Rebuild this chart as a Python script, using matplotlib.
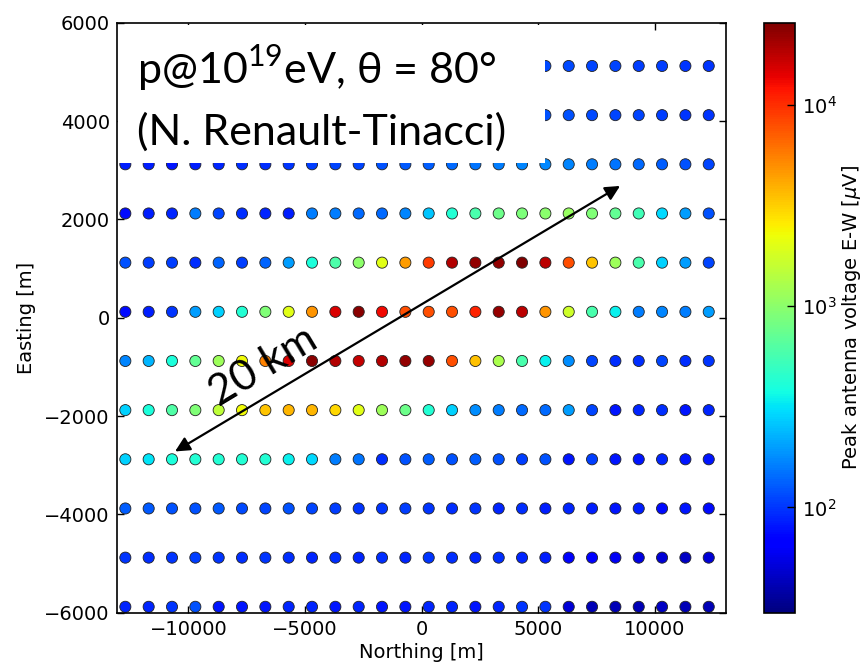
import numpy as np
import matplotlib
matplotlib.use("Agg")
import matplotlib.pyplot as plt
from matplotlib.colors import LogNorm
from matplotlib.patches import Rectangle

# ---------------- data ----------------
northing = [-12700 + 1000 * i for i in range(26)]          # column positions [m]
easting = [5120, 4120, 3120, 2120, 1120, 120,
           -880, -1880, -2880, -3880, -4880, -5880]          # row positions [m]

v_5120  = [100, 100, 100, 100, 100, 100, 100, 100, 100, 100, 100, 100, 100, 100, 100, 100, 100, 110,
           115, 115, 110, 110, 105, 105, 100, 100]
v_4120  = [100, 100, 100, 100, 100, 100, 100, 100, 100, 100, 100, 100, 100, 100, 100, 100, 110, 115,
           120, 120, 115, 110, 110, 105, 100, 100]
v_3120  = [85, 85, 80, 85, 90, 95, 95, 100, 105, 110, 110, 120, 125, 130, 140, 150, 160, 170,
           175, 170, 160, 150, 140, 130, 120, 110]
v_2120  = [75, 85, 90, 160, 110, 95, 90, 85, 160, 160, 140, 140, 170, 260, 420, 580, 780, 880,
           980, 1100, 900, 720, 540, 290, 200, 120]
v_1120  = [120, 105, 105, 95, 135, 105, 135, 200, 400, 600, 1000, 2000, 4500, 9000, 19000, 23000,
           23000, 25000, 18000, 8000, 3400, 1150, 580, 280, 200, 110]
v_120   = [75, 85, 100, 200, 280, 430, 900, 2000, 4800, 15000, 24000, 13000, 8000, 8000, 8000,
           11000, 22000, 18000, 4800, 1700, 580, 340, 160, 170, 160, 200]
v_m880  = [170, 230, 400, 720, 1150, 2300, 5500, 15000, 24000, 19000, 17000, 19000, 23000, 22000,
           8000, 3500, 1300, 580, 340, 180, 110, 95, 95, 110, 95, 100]
v_m1880 = [280, 400, 620, 900, 1500, 2300, 3400, 3800, 3800, 3000, 2000, 1150, 780, 430, 280, 180,
           160, 140, 140, 200, 110, 80, 90, 95, 80, 90]
v_m2880 = [280, 320, 400, 430, 430, 430, 430, 340, 290, 160, 150, 95, 120, 130, 120, 130, 120, 105,
           120, 80, 105, 80, 80, 90, 80, 80]
v_m3880 = [130, 125, 120, 120, 125, 115, 110, 120, 110, 105, 100, 100, 105, 100, 95, 100, 90, 95,
           85, 90, 85, 80, 85, 75, 80, 75]
v_m4880 = [100, 95, 100, 105, 100, 95, 100, 95, 90, 95, 90, 95, 90, 100, 95, 90, 95, 90,
           85, 70, 65, 60, 55, 50, 45, 50]
v_m5880 = [90, 90, 100, 120, 80, 80, 80, 90, 90, 80, 90, 80, 80, 90, 90, 80, 90, 100,
           100, 50, 42, 42, 42, 45, 42, 42]

rows = [v_5120, v_4120, v_3120, v_2120, v_1120, v_120,
        v_m880, v_m1880, v_m2880, v_m3880, v_m4880, v_m5880]

vmin, vmax = 30, 25600

# ---------------- figure ----------------
W, H = 865, 668
fig = plt.figure(figsize=(W / 100, H / 100), dpi=100)

def fr(x0, y0, x1, y1):
    return [x0 / W, 1 - y1 / H, (x1 - x0) / W, (y1 - y0) / H]

ax = fig.add_axes(fr(116.7, 22.7, 726, 612.7))
cax = fig.add_axes(fr(764, 22.7, 795, 612.7))

X, Y = np.meshgrid(northing, easting)
V = np.array(rows, dtype=float)
sc = ax.scatter(X.ravel(), Y.ravel(), c=V.ravel(), cmap="jet",
                norm=LogNorm(vmin=vmin, vmax=vmax), s=64,
                edgecolors="#222222", linewidths=0.6, zorder=2)

ax.set_xlim(-13070, 13040)
ax.set_ylim(-6000, 6000)
ax.set_xticks([-10000, -5000, 0, 5000, 10000])
ax.set_yticks([-6000, -4000, -2000, 0, 2000, 4000, 6000])
ax.tick_params(direction="in", length=5, width=1, top=True, right=True,
               labelsize=14, pad=5)
for sp in ax.spines.values():
    sp.set_linewidth(1.2)
ax.set_xlabel("Northing [m]", fontsize=14, labelpad=3)
ax.set_ylabel("Easting [m]", fontsize=14, labelpad=6)

cb = fig.colorbar(sc, cax=cax)
cb.minorticks_off()
cb.ax.tick_params(direction="in", length=6, width=1, labelsize=14, pad=5)
cb.outline.set_linewidth(1.2)
cb.set_label(r"Peak antenna voltage E-W [$\mu$V]", fontsize=14, labelpad=2)

# white text box
box = Rectangle((118.5 / W, 1 - 163 / H), (545 - 118.5) / W, (163 - 24.5) / H,
                transform=fig.transFigure, facecolor="white", edgecolor="none",
                zorder=2.2)
ax.add_patch(box)
box.set_clip_on(False)

plt.rcParams["mathtext.fontset"] = "custom"
plt.rcParams["mathtext.rm"] = "Lato"
fam = ["Lato", "DejaVu Sans"]
fig.text(137 / W, 1 - 84 / H, r"p@10$^{\mathrm{19}}$eV, θ = 80°", fontsize=31,
         family=fam, ha="left", va="baseline", zorder=5)
fig.text(137 / W, 1 - 145 / H, "(N. Renault-Tinacci)", fontsize=31,
         family=fam, ha="left", va="baseline", zorder=5)

# 20 km arrow
ax.annotate("", xy=(8500, 2680), xytext=(-10570, -2720),
            arrowprops=dict(arrowstyle="<|-|>", color="black", lw=1.6,
                            mutation_scale=22, shrinkA=0, shrinkB=0),
            zorder=4)
ax.text(-6800, -980, "20 km", fontsize=31, family=fam, rotation=31,
        rotation_mode="anchor", ha="center", va="center", zorder=5)

fig.savefig("out.png", dpi=100)
